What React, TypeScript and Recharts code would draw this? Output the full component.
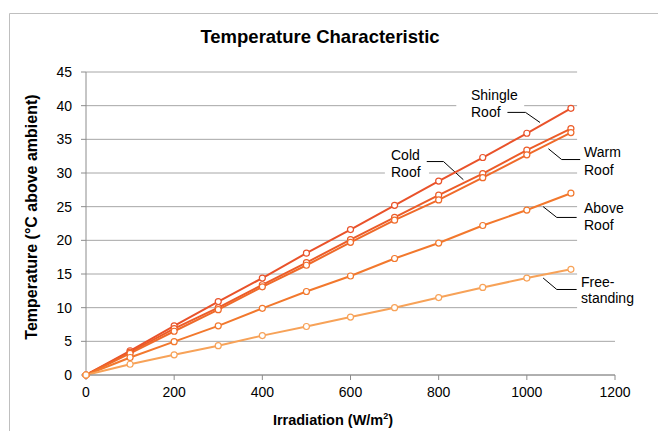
import { LineChart, Line, XAxis, YAxis, CartesianGrid, ReferenceLine, ReferenceArea } from "recharts";

const irradiation = [0, 100, 200, 300, 400, 500, 600, 700, 800, 900, 1000, 1100];
const shingleRoof = [0, 3.6, 7.3, 10.9, 14.4, 18.1, 21.6, 25.2, 28.8, 32.3, 35.9, 39.6];
const coldRoof = [0, 3.4, 6.9, 10.0, 13.4, 16.7, 20.1, 23.4, 26.7, 29.9, 33.4, 36.6];
const warmRoof = [0, 3.2, 6.5, 9.7, 13.1, 16.3, 19.7, 23.0, 26.0, 29.3, 32.7, 36.0];
const aboveRoof = [0, 2.6, 4.95, 7.3, 9.9, 12.4, 14.7, 17.3, 19.6, 22.2, 24.5, 27.0];
const freeStanding = [0, 1.6, 3.0, 4.35, 5.85, 7.2, 8.6, 10.0, 11.5, 13.0, 14.4, 15.7];

const xTicks = [0, 200, 400, 600, 800, 1000, 1200];
const yTicks = [0, 5, 10, 15, 20, 25, 30, 35, 40, 45];

// leader lines for the labels, in data units (irradiation, temperature)
const leaders: [number, number][][] = [
  [[956, 39.0], [997, 39.0], [1030, 37.5]],
  [[773, 31.7], [811, 31.7], [856, 29.0]],
  [[1049, 33.6], [1079, 32.0], [1121, 32.0]],
  [[1037, 25.0], [1068, 23.4], [1113, 23.4]],
  [[1037, 14.4], [1068, 12.7], [1113, 12.7]],
];

const series = [
  { key: "shingle", values: shingleRoof, color: "#E9522A" },
  { key: "cold", values: coldRoof, color: "#EC5C28" },
  { key: "warm", values: warmRoof, color: "#EF6A2A" },
  { key: "above", values: aboveRoof, color: "#F2782D" },
  { key: "free", values: freeStanding, color: "#F7A258" },
];

const data = irradiation.map((x, i) => {
  const row: Record<string, number> = { x };
  series.forEach((s) => (row[s.key] = s.values[i]));
  return row;
});

const font = "'Liberation Sans', Arial, sans-serif";

export default function App() {
  return (
    <div style={{ position: "absolute", left: 0, top: 0, width: 658, height: 431, overflow: "hidden", background: "#fff", fontFamily: font }}>
      <LineChart width={658} height={431} data={data} margin={{ top: 72, right: 43, bottom: 0, left: 0 }}>
        <CartesianGrid vertical={false} stroke="#A6A6A6" />
        <ReferenceArea x1={1114} x2={1200} y1={7.5} y2={46} fill="#fff" fillOpacity={1} stroke="none" ifOverflow="visible" />
        <ReferenceArea x1={840} x2={994} y1={38.5} y2={41.5} fill="#fff" fillOpacity={1} stroke="none" ifOverflow="visible" />
        <ReferenceArea x1={678} x2={778} y1={28.5} y2={31.5} fill="#fff" fillOpacity={1} stroke="none" ifOverflow="visible" />
        <XAxis
          dataKey="x"
          type="number"
          domain={[0, 1200]}
          ticks={xTicks}
          height={56}
          tickSize={5}
          tickMargin={7}
          stroke="#8C8C8C"
          tick={{ fill: "#000", fontSize: 14, fontFamily: font }}
        />
        <YAxis
          type="number"
          domain={[0, 45]}
          ticks={yTicks}
          width={86}
          tickSize={5}
          tickMargin={9}
          stroke="#8C8C8C"
          tick={{ fill: "#000", fontSize: 14, fontFamily: font }}
        />
        {leaders.flatMap((pts, i) =>
          pts.slice(1).map((p, j) => (
            <ReferenceLine
              key={`${i}-${j}`}
              segment={[
                { x: pts[j][0], y: pts[j][1] },
                { x: p[0], y: p[1] },
              ]}
              stroke="#000"
              strokeWidth={1}
              ifOverflow="visible"
            />
          ))
        )}
        {series.map((s) => (
          <Line
            key={s.key}
            dataKey={s.key}
            type="linear"
            stroke={s.color}
            strokeWidth={2}
            dot={{ r: 3, fill: "#fff", stroke: s.color, strokeWidth: 1.2 }}
            isAnimationActive={false}
          />
        ))}
      </LineChart>
      <svg width={658} height={431} style={{ position: "absolute", left: 0, top: 0, pointerEvents: "none" }}>
        <line x1={9.5} y1={13.5} x2={658} y2={13.5} stroke="#BFBFBF" />
        <line x1={9.5} y1={13.5} x2={9.5} y2={431} stroke="#BFBFBF" />
        <text x={320} y={43} textAnchor="middle" fontSize={18.5} fontWeight="bold" fontFamily={font}>
          Temperature Characteristic
        </text>
        <text x={333} y={425} textAnchor="middle" fontSize={14.5} fontWeight="bold" fontFamily={font}>
          Irradiation (W/m<tspan dy={-6} fontSize={9}>2</tspan><tspan dy={6}>)</tspan>
        </text>
        <text transform="translate(37,217) rotate(-90)" textAnchor="middle" fontSize={16} fontWeight="bold" fontFamily={font}>
          Temperature (°C above ambient)
        </text>
        <g fontSize={14} fontFamily={font} fill="#000">
          <text x={471} y={100}>Shingle</text>
          <text x={471} y={117}>Roof</text>
          <text x={391} y={160}>Cold</text>
          <text x={391} y={177}>Roof</text>
          <text x={584} y={157}>Warm</text>
          <text x={584} y={175}>Roof</text>
          <text x={584} y={213}>Above</text>
          <text x={584} y={230}>Roof</text>
          <text x={581} y={287}>Free-</text>
          <text x={581} y={303}>standing</text>
        </g>
      </svg>
    </div>
  );
}
